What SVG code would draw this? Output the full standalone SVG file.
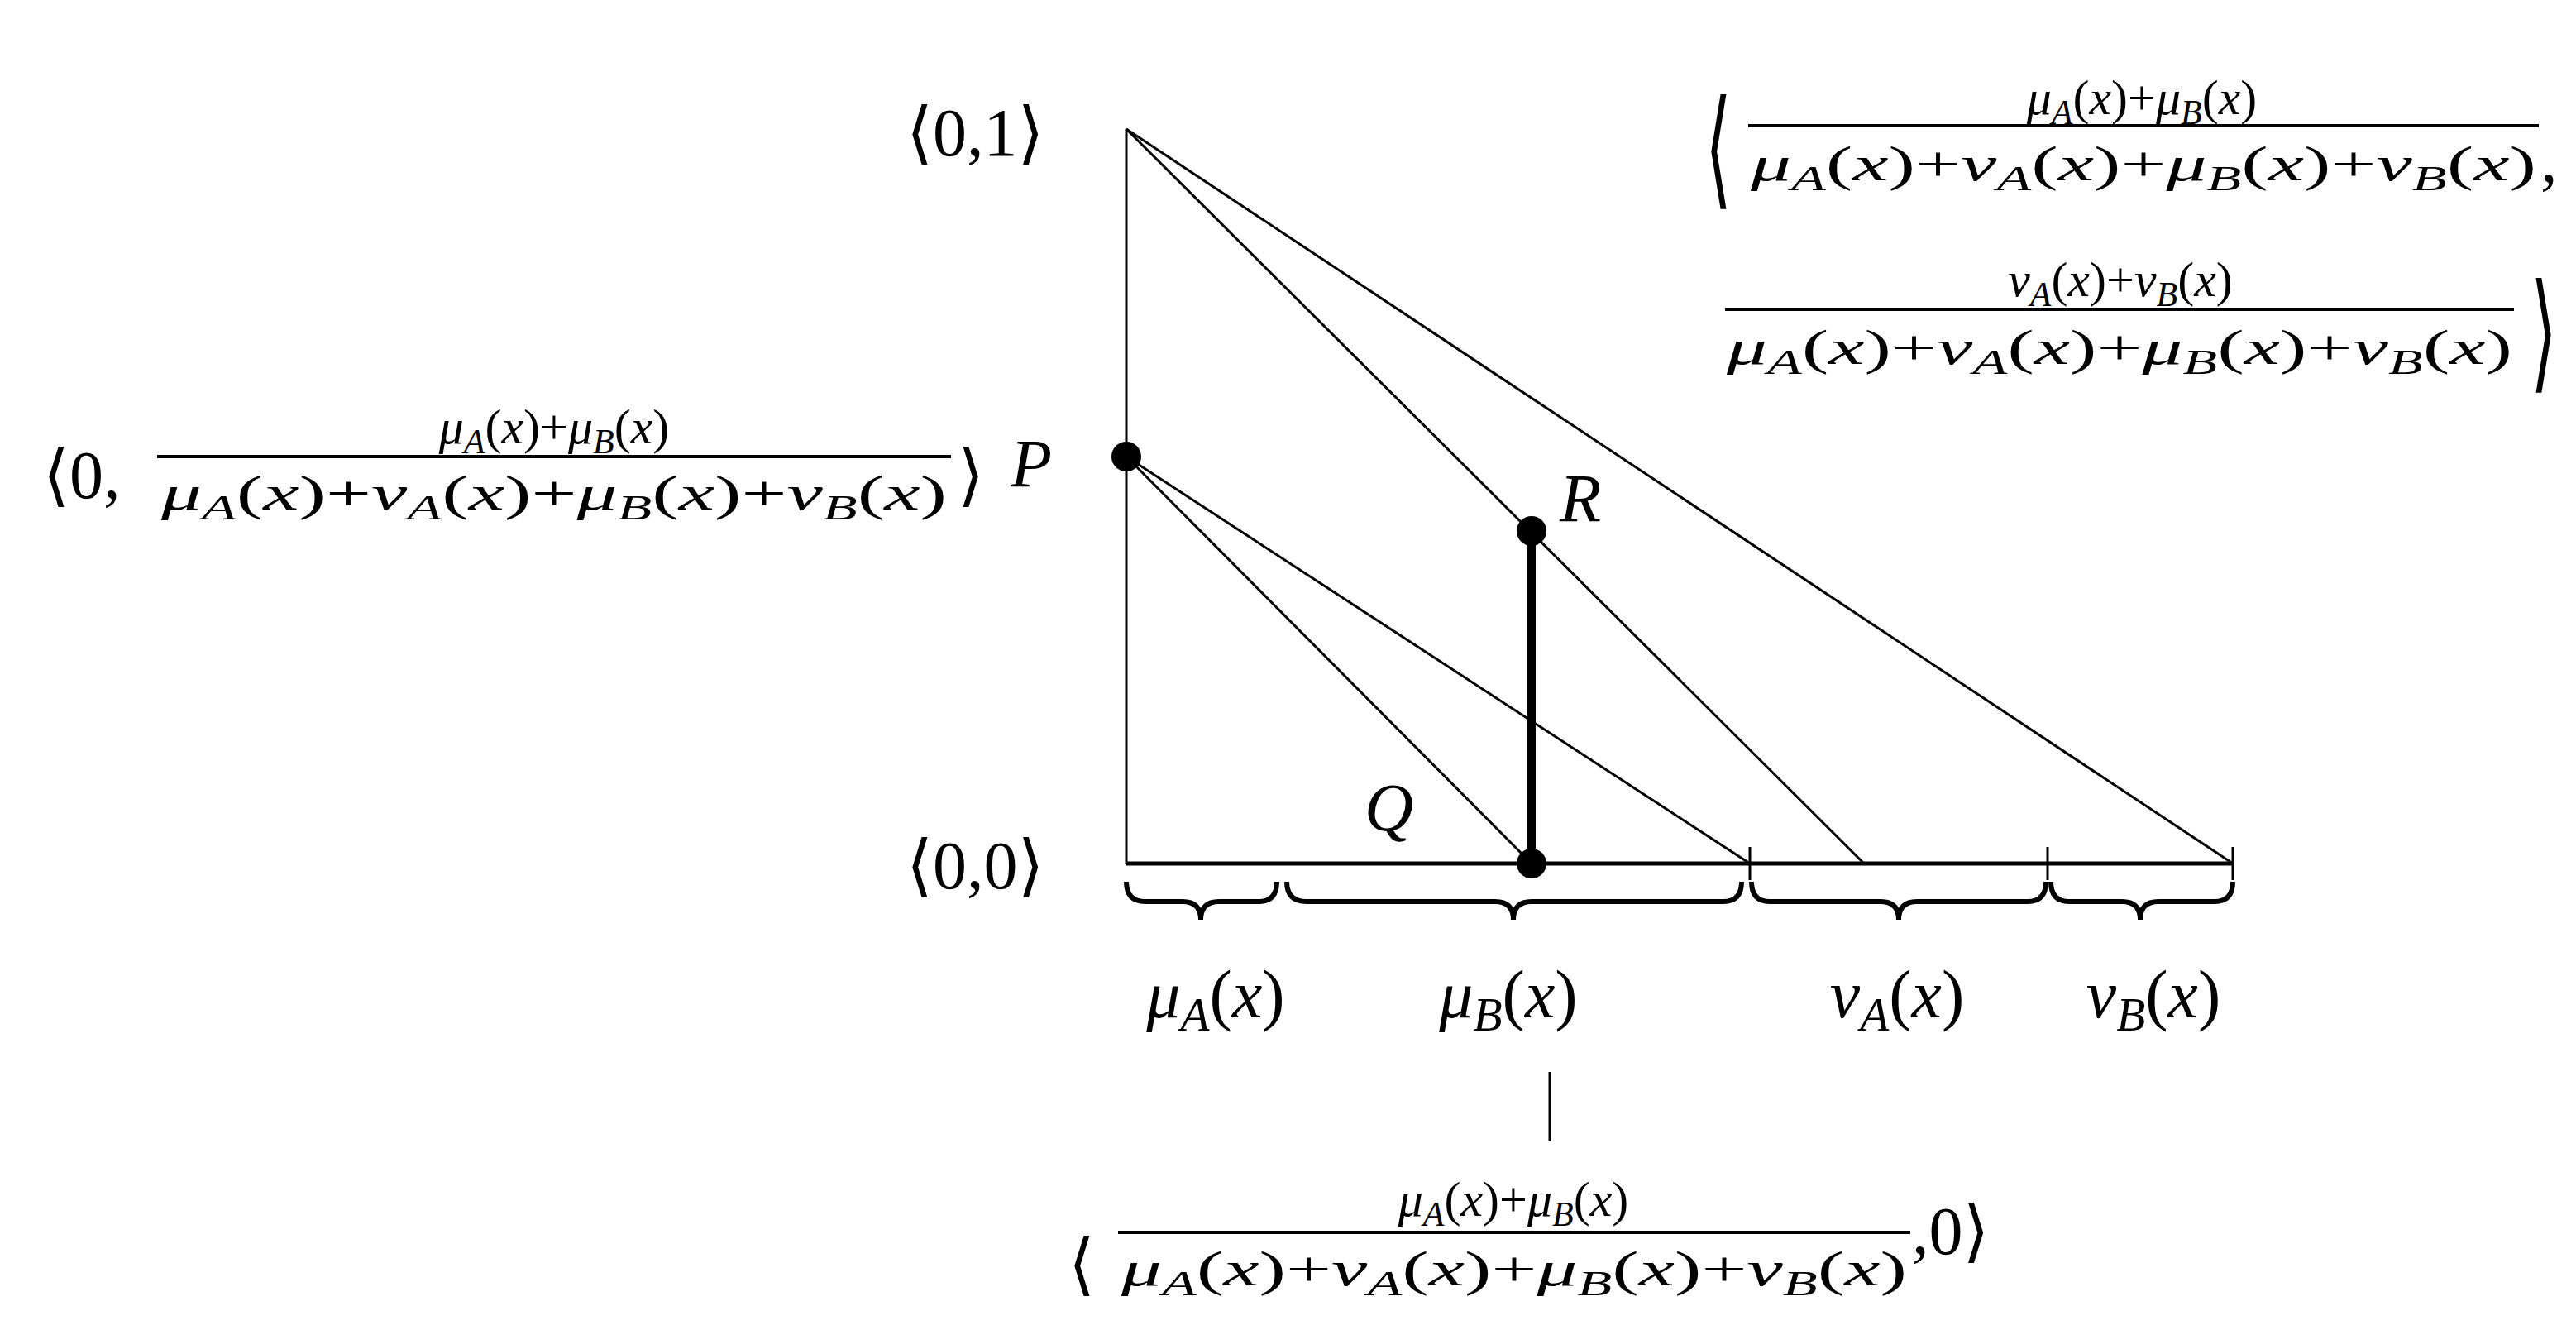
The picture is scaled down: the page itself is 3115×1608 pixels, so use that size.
<svg xmlns="http://www.w3.org/2000/svg" width="3115" height="1608" viewBox="0 0 3115 1608">
<style>
text{font-family:"Liberation Serif","DejaVu Serif",serif;fill:#000}
.i{font-style:italic}
.s{font-style:italic;font-size:70%}
.f{font-size:60px}
.b{font-size:82px}
.ln{stroke:#000;stroke-width:3;fill:none}
.br{stroke:#000;stroke-width:6;fill:none}
</style>
<rect width="3115" height="1608" fill="#fff"/>
<g id="connectors">
<line class="ln" x1="1362" y1="156" x2="1362" y2="1044"/>
<line x1="1362" y1="1044" x2="2700" y2="1044" stroke="#000" stroke-width="5"/>
<line class="ln" x1="1362" y1="156" x2="2700" y2="1044"/>
<line class="ln" x1="1362" y1="156" x2="2254" y2="1044"/>
<line class="ln" x1="1362" y1="552" x2="2116" y2="1044"/>
<line class="ln" x1="1362" y1="552" x2="1852" y2="1044"/>
<line x1="1852" y1="642" x2="1852" y2="1044" stroke="#000" stroke-width="10"/>
<line class="ln" x1="2116" y1="1024" x2="2116" y2="1064"/>
<line class="ln" x1="2476" y1="1024" x2="2476" y2="1064"/>
<line class="ln" x1="2700" y1="1024" x2="2700" y2="1064"/>
<line class="ln" x1="1874" y1="1296" x2="1874" y2="1380"/>
<path class="br" d="M1362 1066 Q1362 1090 1385 1090 L1430 1090 Q1452 1090 1452 1112 Q1452 1090 1474 1090 L1522 1090 Q1544 1090 1544 1066"/>
<path class="br" d="M1556 1066 Q1556 1090 1580 1090 L1808 1090 Q1830 1090 1830 1112 Q1830 1090 1852 1090 L2084 1090 Q2106 1090 2106 1066"/>
<path class="br" d="M2118 1066 Q2118 1090 2140 1090 L2274 1090 Q2296 1090 2296 1112 Q2296 1090 2318 1090 L2452 1090 Q2474 1090 2474 1066"/>
<path class="br" d="M2480 1066 Q2480 1090 2502 1090 L2566 1090 Q2588 1090 2588 1112 Q2588 1090 2610 1090 L2678 1090 Q2700 1090 2700 1066"/>
</g>
<g id="P"><circle cx="1362" cy="552" r="18"/><text class="b i" x="1222" y="588">P</text></g>
<g id="R"><circle cx="1852" cy="642" r="18"/><text class="b i" x="1886" y="630">R</text></g>
<g id="Q"><circle cx="1852" cy="1044" r="18"/><text class="b i" x="1650" y="1004">Q</text></g>
<g id="top"><text class="b" x="1096" y="188">⟨0,1⟩</text></g>
<g id="origin"><text class="b" x="1096" y="1074">⟨0,0⟩</text></g>
<g id="labels">
<text class="b" x="1470" y="1230" text-anchor="middle"><tspan class="i">μ</tspan><tspan class="s" dy="16">A</tspan><tspan dy="-16">(</tspan><tspan class="i">x</tspan>)</text>
<text class="b" x="1824" y="1230" text-anchor="middle"><tspan class="i">μ</tspan><tspan class="s" dy="16">B</tspan><tspan dy="-16">(</tspan><tspan class="i">x</tspan>)</text>
<text class="b" x="2294" y="1230" text-anchor="middle"><tspan class="i">ν</tspan><tspan class="s" dy="16">A</tspan><tspan dy="-16">(</tspan><tspan class="i">x</tspan>)</text>
<text class="b" x="2604" y="1230" text-anchor="middle"><tspan class="i">ν</tspan><tspan class="s" dy="16">B</tspan><tspan dy="-16">(</tspan><tspan class="i">x</tspan>)</text>
</g>
<g id="P-label">
<text class="b" x="52" y="602">⟨0,</text>
<text class="f" x="670" y="536" text-anchor="middle"><tspan class="i">μ</tspan><tspan class="s" dy="12">A</tspan><tspan dy="-12">(</tspan><tspan class="i">x</tspan>)+<tspan class="i">μ</tspan><tspan class="s" dy="12">B</tspan><tspan dy="-12">(</tspan><tspan class="i">x</tspan>)</text>
<line x1="190" y1="552" x2="1150" y2="552" stroke="#000" stroke-width="4"/>
<text class="f" x="670" y="616" text-anchor="middle" textLength="950" lengthAdjust="spacingAndGlyphs"><tspan class="i">μ</tspan><tspan class="s" dy="12">A</tspan><tspan dy="-12">(</tspan><tspan class="i">x</tspan>)+<tspan class="i">ν</tspan><tspan class="s" dy="12">A</tspan><tspan dy="-12">(</tspan><tspan class="i">x</tspan>)+<tspan class="i">μ</tspan><tspan class="s" dy="12">B</tspan><tspan dy="-12">(</tspan><tspan class="i">x</tspan>)+<tspan class="i">ν</tspan><tspan class="s" dy="12">B</tspan><tspan dy="-12">(</tspan><tspan class="i">x</tspan>)</text>
<text class="b" x="1158" y="602">⟩</text>
</g>
<g id="R-label">
<text class="b" transform="translate(2062,232) scale(1,1.9)">⟨</text>
<text class="f" x="2590" y="138" text-anchor="middle"><tspan class="i">μ</tspan><tspan class="s" dy="12">A</tspan><tspan dy="-12">(</tspan><tspan class="i">x</tspan>)+<tspan class="i">μ</tspan><tspan class="s" dy="12">B</tspan><tspan dy="-12">(</tspan><tspan class="i">x</tspan>)</text>
<line x1="2114" y1="152" x2="3070" y2="152" stroke="#000" stroke-width="4"/>
<text class="f" x="2592" y="218" text-anchor="middle" textLength="950" lengthAdjust="spacingAndGlyphs"><tspan class="i">μ</tspan><tspan class="s" dy="12">A</tspan><tspan dy="-12">(</tspan><tspan class="i">x</tspan>)+<tspan class="i">ν</tspan><tspan class="s" dy="12">A</tspan><tspan dy="-12">(</tspan><tspan class="i">x</tspan>)+<tspan class="i">μ</tspan><tspan class="s" dy="12">B</tspan><tspan dy="-12">(</tspan><tspan class="i">x</tspan>)+<tspan class="i">ν</tspan><tspan class="s" dy="12">B</tspan><tspan dy="-12">(</tspan><tspan class="i">x</tspan>)</text>
<text class="b" x="3072" y="220">,</text>
<text class="f" x="2564" y="358" text-anchor="middle"><tspan class="i">ν</tspan><tspan class="s" dy="12">A</tspan><tspan dy="-12">(</tspan><tspan class="i">x</tspan>)+<tspan class="i">ν</tspan><tspan class="s" dy="12">B</tspan><tspan dy="-12">(</tspan><tspan class="i">x</tspan>)</text>
<line x1="2086" y1="374" x2="3040" y2="374" stroke="#000" stroke-width="4"/>
<text class="f" x="2563" y="440" text-anchor="middle" textLength="950" lengthAdjust="spacingAndGlyphs"><tspan class="i">μ</tspan><tspan class="s" dy="12">A</tspan><tspan dy="-12">(</tspan><tspan class="i">x</tspan>)+<tspan class="i">ν</tspan><tspan class="s" dy="12">A</tspan><tspan dy="-12">(</tspan><tspan class="i">x</tspan>)+<tspan class="i">μ</tspan><tspan class="s" dy="12">B</tspan><tspan dy="-12">(</tspan><tspan class="i">x</tspan>)+<tspan class="i">ν</tspan><tspan class="s" dy="12">B</tspan><tspan dy="-12">(</tspan><tspan class="i">x</tspan>)</text>
<text class="b" transform="translate(3060,454) scale(1,1.9)">⟩</text>
</g>
<g id="Q-label">
<text class="b" x="1292" y="1556">⟨</text>
<text class="f" x="1830" y="1470" text-anchor="middle"><tspan class="i">μ</tspan><tspan class="s" dy="12">A</tspan><tspan dy="-12">(</tspan><tspan class="i">x</tspan>)+<tspan class="i">μ</tspan><tspan class="s" dy="12">B</tspan><tspan dy="-12">(</tspan><tspan class="i">x</tspan>)</text>
<line x1="1352" y1="1490" x2="2310" y2="1490" stroke="#000" stroke-width="4"/>
<text class="f" x="1831" y="1554" text-anchor="middle" textLength="950" lengthAdjust="spacingAndGlyphs"><tspan class="i">μ</tspan><tspan class="s" dy="12">A</tspan><tspan dy="-12">(</tspan><tspan class="i">x</tspan>)+<tspan class="i">ν</tspan><tspan class="s" dy="12">A</tspan><tspan dy="-12">(</tspan><tspan class="i">x</tspan>)+<tspan class="i">μ</tspan><tspan class="s" dy="12">B</tspan><tspan dy="-12">(</tspan><tspan class="i">x</tspan>)+<tspan class="i">ν</tspan><tspan class="s" dy="12">B</tspan><tspan dy="-12">(</tspan><tspan class="i">x</tspan>)</text>
<text class="b" x="2312" y="1516">,0⟩</text>
</g>
</svg>
